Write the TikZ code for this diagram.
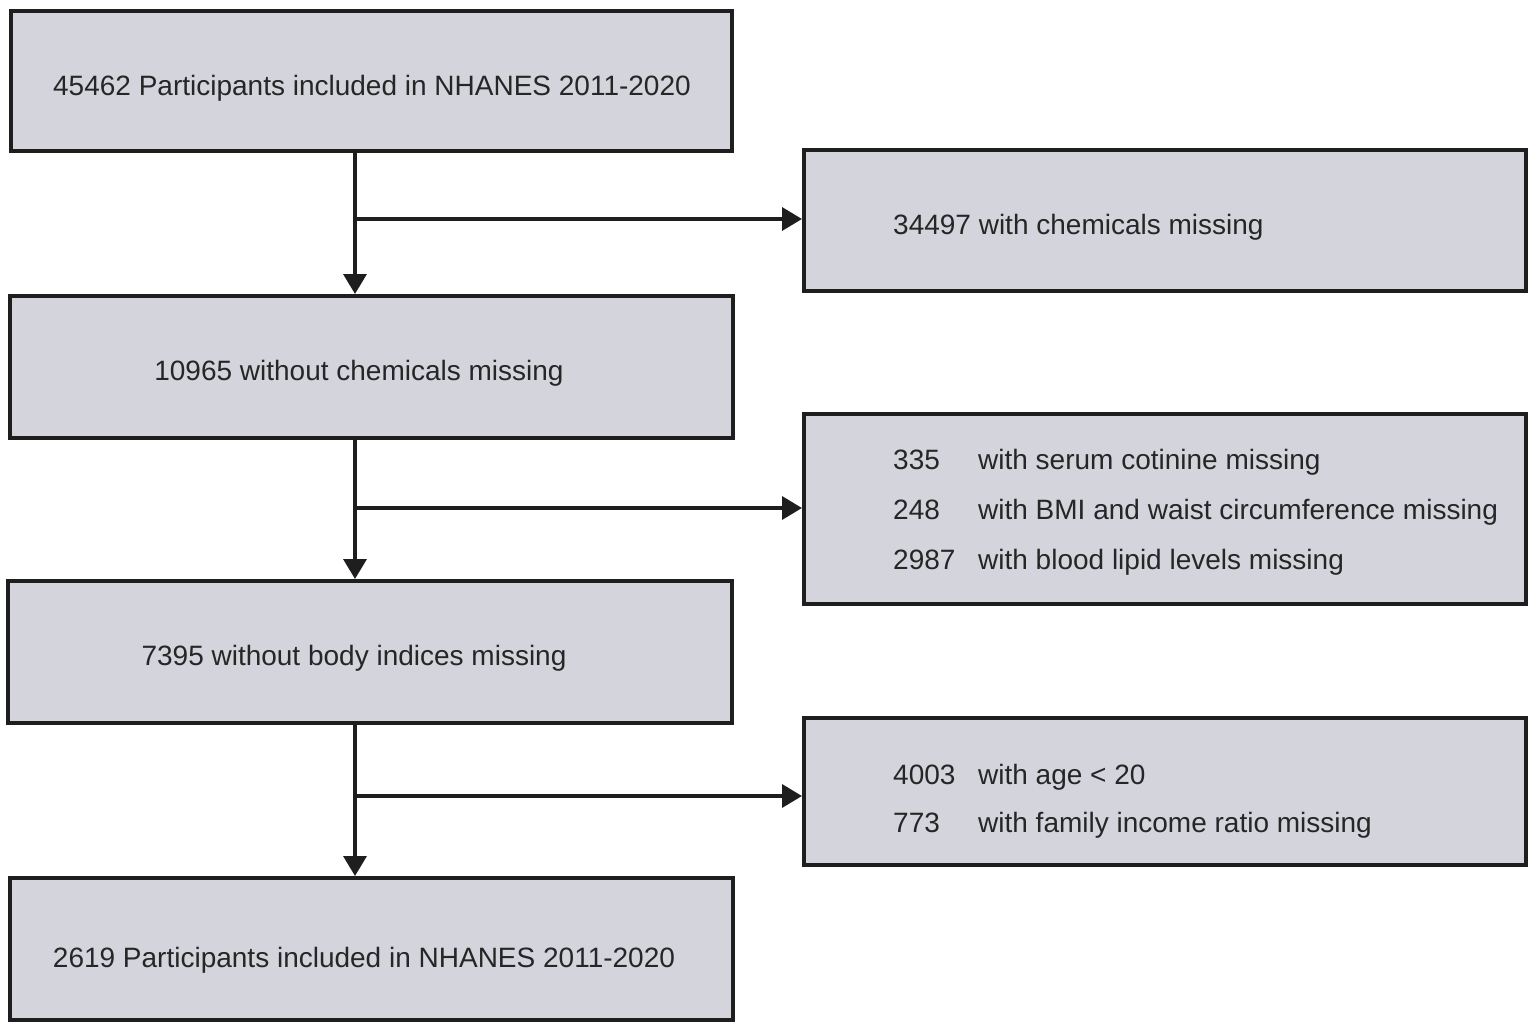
\documentclass[tikz,border=0pt]{standalone}
\usepackage{fontspec}
\setmainfont{Liberation Sans}
\usetikzlibrary{arrows.meta}
\definecolor{boxfill}{HTML}{D4D4DC}
\definecolor{ink}{HTML}{1E1E1E}
\definecolor{txt}{HTML}{262626}
\tikzset{
  box/.style={draw=ink, line width=4pt, fill=boxfill, rectangle, inner sep=0pt},
  lbl/.style={text=txt, font=\fontsize{28}{32}\selectfont, inner sep=0pt, anchor=base},
  rl/.style={lbl, anchor=base west},
  arr/.style={draw=ink, line width=3.5pt, -{Triangle[width=23pt,length=20pt]}},
  ln/.style={draw=ink, line width=3.5pt}
}
\begin{document}
\begin{tikzpicture}[x=1pt,y=-1pt]
\useasboundingbox (0,0) rectangle (1535,1028);
% left boxes
\node[box, minimum width=721pt, minimum height=140pt] (b1) at (371.5,81) {};
\node[box, minimum width=723pt, minimum height=142pt] (b2) at (371.5,367) {};
\node[box, minimum width=724pt, minimum height=142pt] (b3) at (370,652) {};
\node[box, minimum width=723pt, minimum height=142pt] (b4) at (371.5,949) {};
% right boxes
\node[box, minimum width=722pt, minimum height=141pt] (r1) at (1165,220.5) {};
\node[box, minimum width=722pt, minimum height=190pt] (r2) at (1165,509) {};
\node[box, minimum width=722pt, minimum height=147pt] (r3) at (1165,791.5) {};
% left labels
\node[lbl] (t1) at (372,95) {45462 Participants included in NHANES 2011-2020};
\node[lbl] (t2) at (359,380) {10965 without chemicals missing};
\node[lbl] (t3) at (354,665) {7395 without body indices missing};
\node[lbl] (t4) at (364,967) {2619 Participants included in NHANES 2011-2020};
% right labels
\node[rl] (s1) at (893,234) {34497 with chemicals missing};
\node[rl] (n21) at (893,469) {335};
\node[rl] (s21) at (978,469) {with serum cotinine missing};
\node[rl] (n22) at (893,519) {248};
\node[rl] (s22) at (978,519) {with BMI and waist circumference missing};
\node[rl] (n23) at (893,569) {2987};
\node[rl] (s23) at (978,569) {with blood lipid levels missing};
\node[rl] (n31) at (893,784) {4003};
\node[rl] (s31) at (978,784) {with age < 20};
\node[rl] (n32) at (893,832) {773};
\node[rl] (s32) at (978,832) {with family income ratio missing};
% connectors
\coordinate (vx) at (355,0);
\coordinate (j1) at (355,219);
\coordinate (j2) at (355,508);
\coordinate (j3) at (355,796);
\draw[arr] (b1.south -| vx) -- (b2.north -| vx);
\draw[arr] (j1) -- (j1 -| r1.west);
\draw[arr] (b2.south -| vx) -- (b3.north -| vx);
\draw[arr] (j2) -- (j2 -| r2.west);
\draw[arr] (b3.south -| vx) -- (b4.north -| vx);
\draw[arr] (j3) -- (j3 -| r3.west);
\end{tikzpicture}
\end{document}
